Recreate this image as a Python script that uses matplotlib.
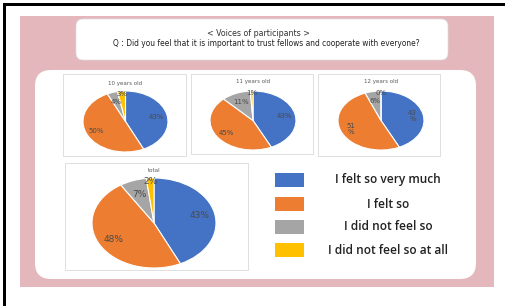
import matplotlib
matplotlib.use("Agg")
import matplotlib.pyplot as plt
from matplotlib.patches import FancyBboxPatch, Rectangle
import numpy as np

categories = ["I felt so very much", "I felt so", "I did not feel so", "I did not feel so at all"]
colors = ["#4472C4", "#ED7D31", "#A5A5A5", "#FFC000"]

group_titles = ["10 years old", "11 years old", "12 years old", "total"]
values_10 = [43, 50, 4, 3]
values_11 = [43, 45, 11, 1]
values_12 = [43, 51, 6, 0]
values_total = [43, 48, 7, 2]
labels_10 = ["43%", "50%", "4%", "3%"]
labels_11 = ["43%", "45%", "11%", "1%"]
labels_12 = ["43\n%", "51\n%", "6%", "0%"]
labels_total = ["43%", "48%", "7%", "2%"]

title_line1 = "< Voices of participants >"
title_line2 = "Q：Did you feel that it is important to trust fellows and cooperate with everyone?"

W, H = 506, 306
fig = plt.figure(figsize=(W / 100, H / 100), dpi=100)
fig.patch.set_facecolor("white")
bg = fig.add_axes([0, 0, 1, 1])
bg.set_xlim(0, W)
bg.set_ylim(H, 0)
bg.axis("off")

# black frame (top and left)
bg.add_patch(Rectangle((3, 3), W - 3, 3, color="black", lw=0))
bg.add_patch(Rectangle((3, 3), 3, H - 3, color="black", lw=0))

# pink background
bg.add_patch(Rectangle((20, 16), 474, 271, color="#E3B7BB", lw=0))

# title box
bg.add_patch(FancyBboxPatch((76, 19), 372, 41, boxstyle="round,pad=0,rounding_size=7",
                            fc="white", ec="#dddddd", lw=0.5))
bg.text(258, 33, title_line1, ha="center", va="center", fontsize=5.7, color="#333333",
        family=["DejaVu Sans", "Noto Sans CJK JP"])
bg.text(266, 44, title_line2, ha="center", va="center", fontsize=5.45, color="#222222",
        family=["DejaVu Sans", "Noto Sans CJK JP"])

# main white box
bg.add_patch(FancyBboxPatch((35, 70), 441, 209, boxstyle="round,pad=0,rounding_size=16",
                            fc="white", ec="none"))

# chart panels
panels = [(63, 74, 123, 82), (191, 74, 122, 80), (318, 74, 122, 82), (65, 163, 183, 107)]
for (x, y, w, h) in panels:
    bg.add_patch(Rectangle((x, y), w, h, fc="white", ec="#d9d9d9", lw=0.6))

# pies: (x_left, y_top, width, height) in pixels
pie_boxes = [(83, 91, 85, 61), (210, 91, 86, 59), (338, 91, 86, 59), (92, 178, 124, 90)]
title_pos = [(125, 83), (253, 82), (381, 82), (154, 170)]
all_values = [values_10, values_11, values_12, values_total]
all_labels = [labels_10, labels_11, labels_12, labels_total]
pct_dist = [0.75, 0.75, 0.68, 0.92]

for i, (bx, by, bw, bh) in enumerate(pie_boxes):
    ax = fig.add_axes([bx / W, 1 - (by + bh) / H, bw / W, bh / H])
    wedges, _ = ax.pie(all_values[i], colors=colors, startangle=90, counterclock=False,
                       wedgeprops=dict(edgecolor="white", linewidth=0.8))
    ax.set_aspect("auto")
    ax.set_xlim(-1, 1)
    ax.set_ylim(-1, 1)
    fs = 6.5 if i == 3 else 5
    for j, wdg in enumerate(wedges):
        ang = np.deg2rad((wdg.theta1 + wdg.theta2) / 2)
        r = pct_dist[j]
        ax.text(r * np.cos(ang), r * np.sin(ang), all_labels[i][j], ha="center", va="center",
                fontsize=fs, color="#4a4a4a", linespacing=1.0)
    tx, ty = title_pos[i]
    bg.text(tx, ty, group_titles[i], ha="center", va="center", fontsize=4, color="#595959")

# legend
legend_y = [180, 204, 227, 250]
for k, cat in enumerate(categories):
    y = legend_y[k]
    bg.add_patch(Rectangle((275, y - 7), 29, 14, fc=colors[k], ec="none"))
    bg.text(388, y, cat, ha="center", va="center", fontsize=8.6, color="#222222",
            family="Open Sans", weight="semibold")

fig.savefig("out.png", dpi=100, facecolor="white")
